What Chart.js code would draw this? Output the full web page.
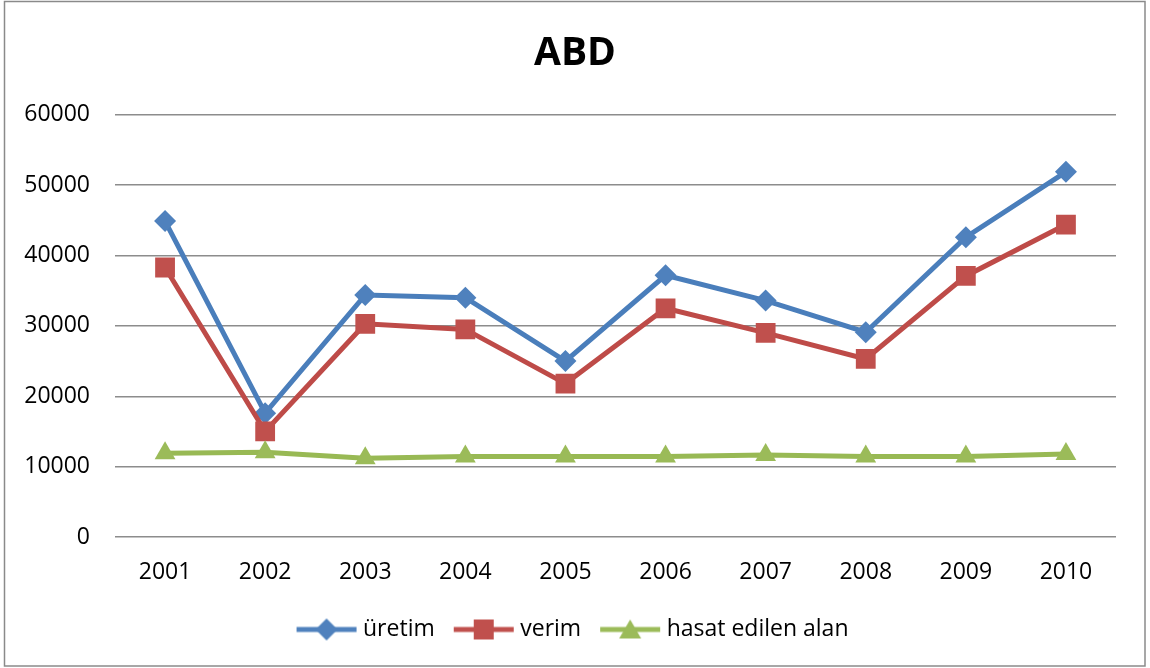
<!DOCTYPE html>
<html>
<head>
<meta charset="utf-8">
<title>ABD</title>
<script src="https://cdn.jsdelivr.net/npm/chart.js@4"></script>
<style>
  body { margin: 0; background: #fff; }
  #wrap { width: 1150px; height: 668px; }
</style>
</head>
<body>
<div id="wrap"><canvas id="chart" width="1150" height="668"></canvas></div>
<script>
const years = ["2001", "2002", "2003", "2004", "2005", "2006", "2007", "2008", "2009", "2010"];
const uretim = [44900, 17600, 34400, 34000, 25000, 37200, 33600, 29100, 42600, 51900];
const verim = [38300, 15000, 30300, 29500, 21800, 32500, 29000, 25300, 37100, 44400];
const hasatAlan = [11900, 12050, 11200, 11450, 11450, 11450, 11650, 11450, 11450, 11800];

const fontFamily = "'Open Sans', 'DejaVu Sans', sans-serif";

// small line + marker sample used as the legend symbol
function legendSymbol(color, shape) {
  const c = document.createElement("canvas");
  c.width = 62;
  c.height = 26;
  const g = c.getContext("2d");
  g.strokeStyle = color;
  g.lineWidth = 5;
  g.beginPath();
  g.moveTo(1, 13);
  g.lineTo(61, 13);
  g.stroke();
  g.fillStyle = color;
  g.beginPath();
  if (shape === "diamond") {
    g.moveTo(31, 2); g.lineTo(42, 13); g.lineTo(31, 24); g.lineTo(20, 13);
  } else if (shape === "square") {
    g.rect(21, 3, 20, 20);
  } else {
    g.moveTo(31, 3); g.lineTo(42, 22); g.lineTo(20, 22);
  }
  g.closePath();
  g.fill();
  return c;
}

const symbols = [
  legendSymbol("#4F81BD", "diamond"),
  legendSymbol("#C0504D", "square"),
  legendSymbol("#9BBB59", "triangle"),
];

const frame = {
  id: "frame",
  afterDraw(chart) {
    const ctx = chart.ctx;
    ctx.save();
    ctx.strokeStyle = "#8a8a8a";
    ctx.lineWidth = 1.5;
    ctx.strokeRect(4.5, 1.5, 1140.5, 664.5);
    ctx.restore();
  },
};

const ctx = document.getElementById("chart").getContext("2d");
new Chart(ctx, {
  type: "line",
  data: {
    labels: years,
    datasets: [
      {
        label: "üretim",
        data: uretim,
        borderColor: "#4A7EBB",
        backgroundColor: "#4F81BD",
        borderWidth: 5,
        pointStyle: "rectRot",
        pointRadius: 11,
        pointHoverRadius: 11,
        pointBorderWidth: 0,
        order: 3,
      },
      {
        label: "verim",
        data: verim,
        borderColor: "#BE4B48",
        backgroundColor: "#C0504D",
        borderWidth: 5,
        pointStyle: "rect",
        pointRadius: 14,
        pointHoverRadius: 14,
        pointBorderWidth: 0,
        order: 2,
      },
      {
        label: "hasat edilen alan",
        data: hasatAlan,
        borderColor: "#98B954",
        backgroundColor: "#9BBB59",
        borderWidth: 5,
        pointStyle: "triangle",
        pointRadius: 12,
        pointHoverRadius: 12,
        pointBorderWidth: 0,
        order: 1,
      },
    ],
  },
  options: {
    responsive: false,
    animation: false,
    layout: { padding: { left: 15, right: 15, top: 0, bottom: 17 } },
    scales: {
      x: {
        offset: true,
        grid: { display: false, drawTicks: false },
        border: { display: false },
        ticks: { color: "#000", padding: 22, font: { family: fontFamily, size: 23 } },
        afterFit(scale) { scale.height = 57; },
      },
      y: {
        min: 0,
        max: 60000,
        ticks: {
          stepSize: 10000,
          color: "#000",
          padding: 25,
          font: { family: fontFamily, size: 23 },
          callback: (v) => String(v),
        },
        grid: { color: "#8c8c8c", lineWidth: 1.4, drawTicks: false },
        border: { display: false },
        afterFit(scale) { scale.width = 100; },
      },
      // empty right-hand spacer so the title and legend stay centred
      spacer: {
        position: "right",
        min: 0,
        max: 60000,
        ticks: { display: false },
        grid: { display: false, drawTicks: false },
        border: { display: false },
        afterFit(scale) { scale.width = 19; },
      },
    },
    plugins: {
      title: {
        display: true,
        text: "ABD",
        color: "#000",
        font: { family: fontFamily, size: 39, weight: "bold" },
        padding: { top: 30, bottom: 38 },
      },
      legend: {
        position: "bottom",
        labels: {
          color: "#000",
          font: { family: fontFamily, size: 23 },
          usePointStyle: true,
          pointStyleWidth: 50,
          padding: 24,
          sort: (a, b) => a.datasetIndex - b.datasetIndex,
          generateLabels(chart) {
            const items = Chart.defaults.plugins.legend.labels.generateLabels(chart);
            items.forEach(function (item) {
              item.pointStyle = symbols[item.datasetIndex];
            });
            return items;
          },
        },
      },
      tooltip: { enabled: false },
    },
  },
  plugins: [frame],
});
</script>
</body>
</html>
